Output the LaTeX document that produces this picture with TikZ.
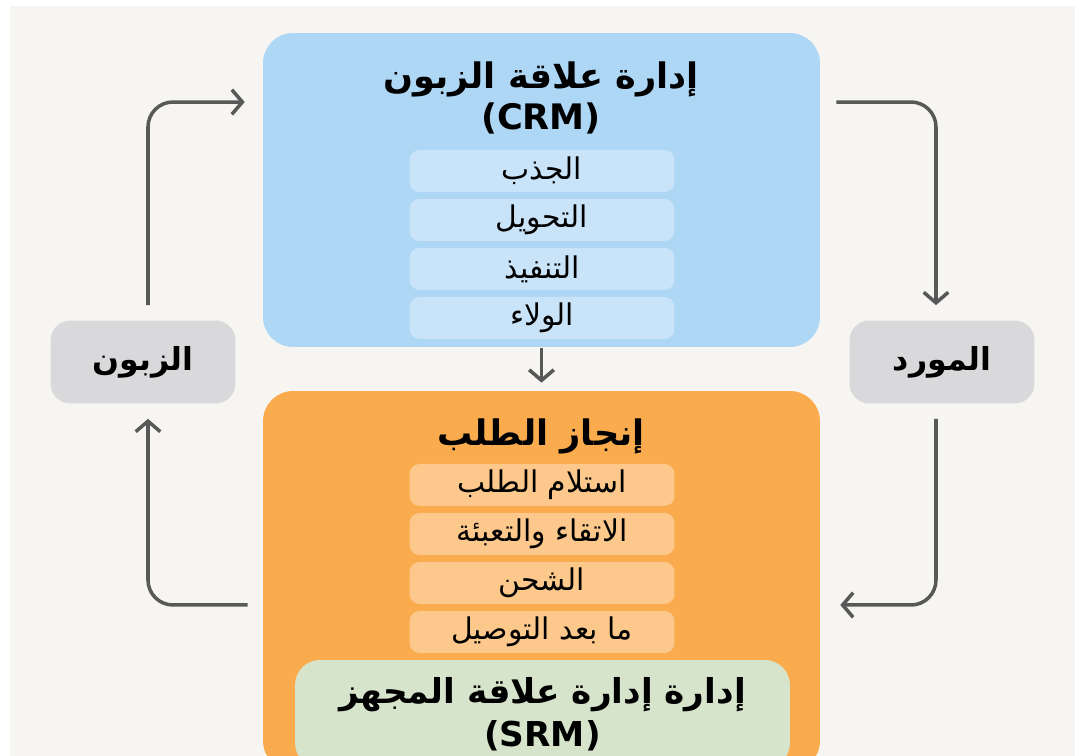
\documentclass[tikz,border=0pt]{standalone}
\usepackage{fontspec}
\setmainfont{DejaVu Sans}
\newfontfamily\arabicfont[Script=Arabic]{DejaVu Sans}
\TeXXeTstate=1
\usepackage{tikz}
\usetikzlibrary{arrows.meta,positioning}

\definecolor{bgpaper}{HTML}{F7F5F2}
\definecolor{crmblue}{HTML}{AED6F5}
\definecolor{crmitem}{HTML}{C9E3F8}
\definecolor{ordorange}{HTML}{F9AB4D}
\definecolor{orditem}{HTML}{FCC88B}
\definecolor{srmgreen}{HTML}{D6E4CC}
\definecolor{sidegray}{HTML}{D9D9DB}
\definecolor{arrowgray}{HTML}{585858}

\newcommand{\artext}[1]{{\arabicfont\beginR #1\endR}}

\tikzset{
  box/.style={rounded corners=0.6cm, inner sep=0pt},
  title/.style={align=center, font=\fontsize{20pt}{23.3pt}\selectfont\bfseries},
  item/.style={rounded corners=0.2cm, minimum width=5.3cm, minimum height=0.84cm,
    inner sep=0pt, font=\fontsize{17pt}{19pt}\selectfont},
  side/.style={fill=sidegray, rounded corners=0.4cm, minimum width=3.7cm,
    minimum height=1.66cm, font=\fontsize{18pt}{20pt}\selectfont\bfseries},
  flow/.style={draw=arrowgray, line width=2pt, rounded corners=0.5cm,
    -{Straight Barb[length=6pt,width=14pt]}}
}

\begin{document}
\begin{tikzpicture}[x=0.02cm,y=-0.02cm,node distance=0.98cm,on grid]
\clip (0,0) rectangle (1080,756);
\fill[white] (0,0) rectangle (1080,756);
\fill[bgpaper] (10,6) rectangle (1075,756);

\node[box,fill=crmblue,minimum width=11.14cm,minimum height=6.28cm] (crm) at (541.5,190) {};
\node[title] (crm_t) at (541,98) {\artext{إدارة علاقة الزبون}\\(CRM)};
\node[item,fill=crmitem] (crm_1) at (542,171) {\artext{الجذب}};
\node[item,fill=crmitem] (crm_2) [below=of crm_1] {\artext{التحويل}};
\node[item,fill=crmitem] (crm_3) [below=of crm_2] {\artext{التنفيذ}};
\node[item,fill=crmitem] (crm_4) [below=of crm_3] {\artext{الولاء}};

\node[box,fill=ordorange,minimum width=11.14cm,minimum height=7.6cm] (ord) at (541.5,581) {};
\node[title] (ord_t) at (541,436) {\artext{إنجاز الطلب}};
\node[item,fill=orditem] (ord_1) at (542,485) {\artext{استلام الطلب}};
\node[item,fill=orditem] (ord_2) [below=of ord_1] {\artext{الاتقاء والتعبئة}};
\node[item,fill=orditem] (ord_3) [below=of ord_2] {\artext{الشحن}};
\node[item,fill=orditem] (ord_4) [below=of ord_3] {\artext{ما بعد التوصيل}};

\node[box,fill=srmgreen,rounded corners=0.5cm,minimum width=9.9cm,minimum height=2.16cm,
  align=center,font=\fontsize{19.5pt}{24.4pt}\selectfont\bfseries] (srm) at (542.5,714)
  {\artext{إدارة إدارة علاقة المجهز}\\(SRM)};

\node[side] (cust) at (143,362) {\artext{الزبون}};
\node[side] (sup) at (942,362) {\artext{المورد}};

\coordinate (crm_in) at ([yshift=1.76cm]crm.west);
\coordinate (crm_out) at ([yshift=1.76cm]crm.east);
\coordinate (ord_in) at ([yshift=-0.48cm]ord.east);
\coordinate (ord_out) at ([yshift=-0.48cm]ord.west);

\draw[flow,shorten <=0.3cm,shorten >=0.36cm] ([xshift=0.1cm]cust.north) |- (crm_in);
\draw[flow,shorten <=0.32cm,shorten >=0.3cm] (crm_out) -| ([xshift=-0.12cm]sup.north);
\draw[flow,shorten <=0.3cm,shorten >=0.4cm] ([xshift=-0.12cm]sup.south) |- (ord_in);
\draw[flow,shorten <=0.3cm,shorten >=0.3cm] (ord_out) -| ([xshift=0.1cm]cust.south);
\draw[flow,shorten <=0.02cm,shorten >=0.16cm] (crm) -- (ord);
\end{tikzpicture}
\end{document}
